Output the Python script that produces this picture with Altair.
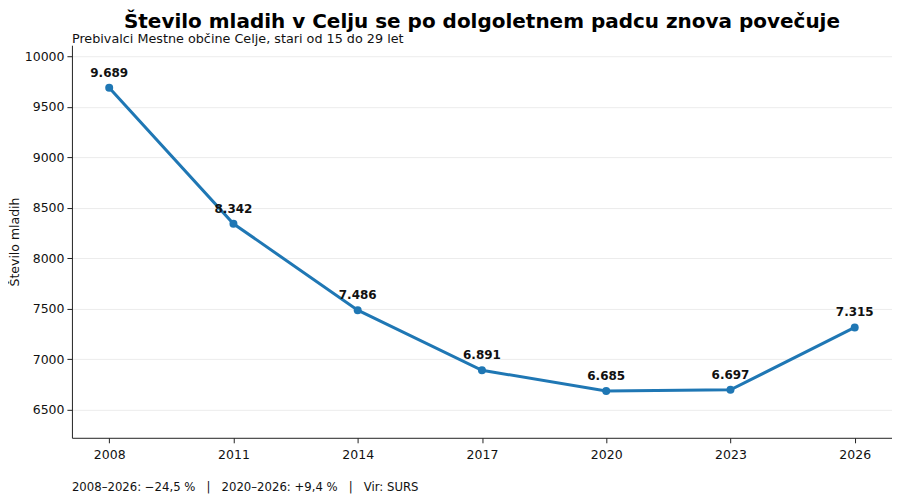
import pandas as pd
import altair as alt

years = [2008, 2011, 2014, 2017, 2020, 2023, 2026]
counts = [9689, 8342, 7486, 6891, 6685, 6697, 7315]
labels = [f"{v:,}".replace(",", ".") for v in counts]

x_ticks = [2008, 2011, 2014, 2017, 2020, 2023, 2026]
y_ticks = [6500, 7000, 7500, 8000, 8500, 9000, 9500, 10000]

title = "Število mladih v Celju se po dolgoletnem padcu znova povečuje"
subtitle = "Prebivalci Mestne občine Celje, stari od 15 do 29 let"
# non-breaking spaces so that the gaps round the bars survive in SVG
gap = "\u00a0\u00a0\u00a0"
footer = f"2008–2026: −24,5 %{gap}|{gap}2020–2026: +9,4 %{gap}|{gap}Vir: SURS"

df = pd.DataFrame({"leto": years, "stevilo": counts, "oznaka": labels})

W, H = 821, 393
FONT = "DejaVu Sans"

x = alt.X(
    "leto:Q",
    scale=alt.Scale(domain=[2007.1, 2026.9], nice=False, zero=False),
    axis=alt.Axis(values=x_ticks, format="d", title=None, grid=False,
                  labelFontSize=12.5, labelPadding=6, tickSize=5,
                  domainColor="#222", tickColor="#222", labelColor="#111"),
)
y = alt.Y(
    "stevilo:Q",
    scale=alt.Scale(domain=[6222, 10110], nice=False, zero=False),
    axis=alt.Axis(values=y_ticks, format="d", title="Število mladih",
                  labelFontSize=12.5, labelPadding=3, tickSize=5,
                  titleFontSize=12.5, titleFontWeight="normal", titlePadding=3,
                  titleColor="#111", grid=True, gridColor="#ececec",
                  domainColor="#222", tickColor="#222", labelColor="#111"),
)

base = alt.Chart(df).encode(x=x, y=y)

line = base.mark_line(color="#1f77b4", strokeWidth=3)
points = base.mark_circle(color="#1f77b4", size=64, opacity=1)
text = base.mark_text(dy=-15, fontSize=12, fontWeight="bold", font=FONT,
                      color="#111").encode(text="oznaka:N")

sub = alt.Chart(pd.DataFrame({"t": [subtitle]})).mark_text(
    align="left", baseline="middle", fontSize=12.8, font=FONT, color="#111"
).encode(x=alt.value(0), y=alt.value(-6), text="t:N")

foot = alt.Chart(pd.DataFrame({"t": [footer]})).mark_text(
    align="left", baseline="middle", fontSize=11.7, font=FONT, color="#111"
).encode(x=alt.value(0), y=alt.value(H + 49), text="t:N")

chart = (
    alt.layer(line, points, text, sub, foot)
    .properties(
        width=W,
        height=H,
        title=alt.TitleParams(title, fontSize=20, fontWeight="bold", font=FONT,
                              anchor="middle", color="#000", offset=1),
        autosize=alt.AutoSizeParams(type="none"),
        padding={"left": 64, "top": 37, "right": 0, "bottom": 58},
    )
    .configure(font=FONT, background="white")
    .configure_view(stroke=None)
)

chart.save("out.html", embed_options={"renderer": "svg", "actions": False})
